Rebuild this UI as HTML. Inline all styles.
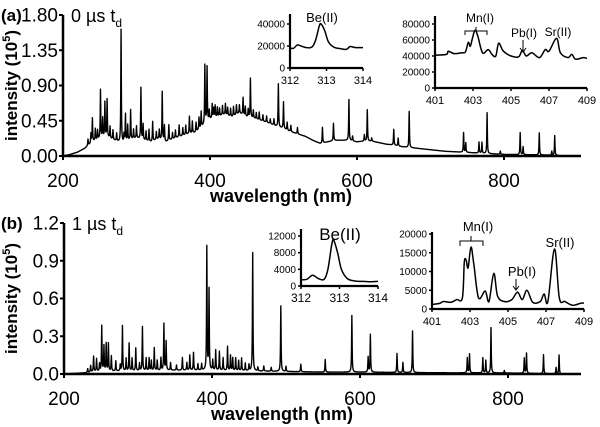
<!DOCTYPE html>
<html><head><meta charset="utf-8"><style>
body{margin:0;background:#fff}
svg{display:block;font-family:"Liberation Sans",sans-serif}
</style></head><body>
<svg id="c" width="600" height="427" viewBox="0 0 600 427"></svg>
<script>
// ---- Panel (a) 0 us data (intensity in 1e5) ----
const baseA_wl=[200,210,220,230,240,250,260,270,280,290,300,310,320,330,340,350,360,370,380,390,400,410,420,430,440,450,460,470,480,490,500,510,520,530,540,550,560,570,580,590,600,610,620,630,640,650,660,670,680,690,700,720,740,760,780,800,840,870,880,905];
const baseA_val=[0,0.02,0.05,0.1,0.18,0.22,0.24,0.2,0.16,0.2,0.23,0.2,0.18,0.22,0.18,0.22,0.25,0.28,0.3,0.38,0.47,0.5,0.53,0.5,0.55,0.5,0.48,0.45,0.42,0.38,0.35,0.31,0.28,0.25,0.2,0.16,0.18,0.2,0.2,0.2,0.18,0.19,0.19,0.17,0.15,0.14,0.12,0.11,0.1,0.09,0.08,0.06,0.05,0.04,0.03,0.02,0.015,0.01,0,0];
const peakA_wl=[234,238,240,244,247,251,254,257,260,264,268,273,279,283,285,288,292,296,300,306,309,313,317,322,327,331,335,338,344,349,353,358,363,367,372,376,381,385,388,393,396,399,403,405,407,410,413,417,421,424,428,432,436,440,445,448,452,455,459,463,467,472,477,482,487,493,500,505,510,519,553,568,589,594,610,614,620,650,656,671,745,748,766,770,777,795,822,826,848,865,869];
const peakA_h=[0.08,0.12,0.3,0.15,0.12,0.62,0.25,0.45,0.48,0.15,0.12,0.1,1.45,0.1,0.35,0.2,0.38,0.12,0.15,0.66,0.2,0.12,0.15,0.25,0.1,0.12,0.62,0.2,0.2,0.08,0.1,0.15,0.1,0.12,0.22,0.15,0.12,0.15,0.2,0.75,0.7,0.12,0.18,0.12,0.15,0.12,0.1,0.12,0.14,0.1,0.1,0.12,0.12,0.1,0.22,0.12,0.1,0.5,0.1,0.08,0.1,0.08,0.08,0.06,0.08,0.55,0.34,0.1,0.08,0.08,0.2,0.22,0.52,0.06,0.08,0.4,0.04,0.2,0.1,0.46,0.25,0.12,0.14,0.14,0.52,0.04,0.28,0.1,0.28,0.05,0.25];
// ---- Panel (b) 1 us data ----
const baseB_wl=[200,230,240,300,350,400,450,500,550,600,700,800,880,905];
const baseB_val=[0,0.01,0.02,0.025,0.03,0.03,0.025,0.02,0.015,0.015,0.01,0.008,0,0];
const peakB_wl=[232,236,240,244,248,251,254,257,260,264,270,276,279,284,288,292,297,302,306,311,315,318,322,326,331,335,338,344,352,360,366,370,375,381,386,393,396,401,405,410,415,421,425,428,432,436,440,445,450,455,462,470,480,493,500,520,553,589,611,614,650,658,671,745,748,766,770,777,795,822,825,848,865,869];
const peakB_h=[0.03,0.05,0.12,0.1,0.06,0.36,0.2,0.22,0.22,0.12,0.08,0.05,0.36,0.1,0.22,0.1,0.18,0.06,0.35,0.1,0.1,0.08,0.18,0.08,0.1,0.37,0.23,0.06,0.04,0.1,0.06,0.12,0.14,0.05,0.05,0.98,0.64,0.08,0.16,0.15,0.1,0.19,0.12,0.1,0.1,0.08,0.1,0.06,0.05,0.94,0.03,0.04,0.03,0.52,0.04,0.06,0.1,0.45,0.12,0.3,0.15,0.08,0.33,0.12,0.15,0.12,0.1,0.36,0.02,0.12,0.16,0.15,0.05,0.15];
// ---- insets ----
const beA_x=[312,312.1,312.2,312.3,312.45,312.6,312.7,312.8,312.85,312.95,313.05,313.2,313.4,313.55,313.65,313.8,314];
const beA_y=[18000,18000,21000,20000,18500,19000,25000,38000,40000,34000,24000,19000,17500,17000,19500,18500,18500];
const mnA_x=[401,401.6,401.7,402,402.4,402.6,402.75,402.85,402.95,403.1,403.25,403.5,403.8,404,404.2,404.35,404.6,405,405.4,405.6,405.8,406.1,406.5,406.8,407,407.4,407.6,408,408.2,408.4,408.8,409];
const mnA_y=[41000,42000,46000,43000,44000,45000,57000,52000,60000,72000,65000,44000,48000,42000,40000,56000,46000,40000,39000,47000,40000,44000,38000,48000,46000,62000,44000,38000,42000,36000,38000,37000];
const beB_x=[312,312.15,312.3,312.45,312.6,312.7,312.8,312.85,312.95,313.05,313.2,313.4,313.6,313.8,314];
const beB_y=[1500,1600,2600,1800,1600,4000,10000,11000,8000,4000,1800,1200,1100,1000,1100];
const mnB_x=[401,401.4,401.6,402,402.3,402.6,402.7,402.8,402.9,403.05,403.2,403.45,403.8,404,404.25,404.45,404.8,405.2,405.5,405.75,406,406.3,406.7,406.9,407.1,407.45,407.7,408,408.4,408.8,409];
const mnB_y=[1200,1500,2000,1800,2500,3000,12500,13000,11000,16500,12000,3000,4800,2000,9500,3500,2000,2500,4500,2500,5000,1800,2000,4000,2000,16000,3000,2000,1000,1500,1600];

const NS='http://www.w3.org/2000/svg';
const svg=document.getElementById('c');
function mk(tag,attrs,parent,text){const e=document.createElementNS(NS,tag);for(const k in attrs)e.setAttribute(k,attrs[k]);if(text!==undefined)e.textContent=text;(parent||svg).appendChild(e);return e;}
function interp(xs,ys,x){if(x<=xs[0])return ys[0];for(let i=1;i<xs.length;i++){if(x<=xs[i]){const t=(x-xs[i-1])/(xs[i]-xs[i-1]);return ys[i-1]+t*(ys[i]-ys[i-1]);}}return ys[ys.length-1];}
function spectrum(bw,bv,pw,ph,wl){let v=interp(bw,bv,wl);for(let i=0;i<pw.length;i++){const d=(wl-pw[i])/0.9;v+=ph[i]/(1+d*d*5);}return v;}

function smooth(xs,ys){
  let d='M'+xs[0].toFixed(1)+','+ys[0].toFixed(1);
  for(let i=0;i<xs.length-1;i++){const x0=xs[i-1]??xs[i],y0=ys[i-1]??ys[i],x3=xs[i+2]??xs[i+1],y3=ys[i+2]??ys[i+1];
    d+=`C${(xs[i]+(xs[i+1]-x0)/6).toFixed(1)},${(ys[i]+(ys[i+1]-y0)/6).toFixed(1)} ${(xs[i+1]-(x3-xs[i])/6).toFixed(1)},${(ys[i+1]-(y3-ys[i])/6).toFixed(1)} ${xs[i+1].toFixed(1)},${ys[i+1].toFixed(1)}`;}
  return d;}

function panel(p){
  const g=mk('g',{},svg);
  const sx=w=>p.x0+(w-200)*p.k, sy=v=>p.y0-(v/p.ymax)*(p.y0-p.ytop);
  let d='';for(let w=200;w<=885;w+=0.25){const v=spectrum(p.bw,p.bv,p.pw,p.ph,w);d+=(d?'L':'M')+sx(w).toFixed(2)+','+sy(v).toFixed(2);}
  const line=mk('path',{d:d,fill:'none',stroke:'#000','stroke-width':1.4,'stroke-linejoin':'round'},g);
  const ax=mk('path',{d:`M${p.x0},${p.ytop}V${p.y0}H581`,fill:'none',stroke:'#000','stroke-width':2.5},g);
  p.yt.forEach((t,i)=>{const y=sy(p.ytv[i]);mk('path',{d:`M${p.x0-4},${y}H${p.x0}`,stroke:'#000','stroke-width':2},g);
    const tx=mk('text',{x:p.x0-5,y:y+6.5,'text-anchor':'end','font-size':19},g,t);});
  [200,400,600,800].forEach(w=>{const x=sx(w);mk('path',{d:`M${x},${p.y0}V${p.y0+4}`,stroke:'#000','stroke-width':2},g);
    const tx=mk('text',{x:x,y:p.y0+31,'text-anchor':'middle','font-size':19},g,String(w));});
  const xt=mk('text',{x:p.x0+218,y:p.y0+46,'text-anchor':'middle','font-size':18,'font-weight':'bold'},g,'wavelength (nm)');
  const yt=mk('text',{transform:`translate(17,${(p.y0+p.ytop)/2}) rotate(-90)`,'text-anchor':'middle','font-size':17,'font-weight':'bold'},g);
  
  yt.innerHTML='intensity (10<tspan font-size="11" dy="-7">5</tspan><tspan dy="7">)</tspan>';
  const lab=mk('text',{x:1,y:p.ytop+6,'font-size':17,'font-weight':'bold'},g,p.letter);
  const td=mk('text',{x:p.x0+8,y:p.ytop+7,'font-size':18},g);
  td.innerHTML=p.delay+' µs t<tspan font-size="12" dy="5">d</tspan>';
}
panel({name:'panel-a',letter:'(a)',delay:'0',x0:63,k:0.735,y0:156,ytop:15,ymax:1.8,yt:['1.80','1.35','0.90','0.45','0.00'],ytv:[1.8,1.35,0.9,0.45,0],bw:baseA_wl,bv:baseA_val,pw:peakA_wl,ph:peakA_h});
panel({name:'panel-b',letter:'(b)',delay:'1',x0:64,k:0.74,y0:374,ytop:223,ymax:1.2,yt:['1.2','0.9','0.6','0.3','0.0'],ytv:[1.2,0.9,0.6,0.3,0],bw:baseB_wl,bv:baseB_val,pw:peakB_wl,ph:peakB_h});

function inset(q){
  const g=mk('g',{},svg);
  const sx=x=>q.x0+(x-q.xmin)/(q.xmax-q.xmin)*(q.x1-q.x0), sy=v=>q.y0-v/q.ymax*(q.y0-q.ymt);
  const l=mk('path',{d:smooth(q.xs.map(sx),q.ys.map(sy)),fill:'none',stroke:'#000','stroke-width':1.5,'stroke-linejoin':'round'},g);
  mk('path',{d:`M${q.x0},${q.top}V${q.y0}H${q.x1}`,fill:'none',stroke:'#000','stroke-width':2.2},g);
  q.yt.forEach(v=>{const y=sy(v);mk('path',{d:`M${q.x0-3},${y}H${q.x0}`,stroke:'#000','stroke-width':1.5},g);
    const t=mk('text',{x:q.x0-5,y:y+3.5,'text-anchor':'end','font-size':10},g,String(v));});
  q.xt.forEach(v=>{const x=sx(v);mk('path',{d:`M${x},${q.y0}V${q.y0+3}`,stroke:'#000','stroke-width':1.5},g);
    const t=mk('text',{x:x,y:q.y0+16,'text-anchor':'middle','font-size':q.xfs},g,String(v));});
}
inset({name:'inset-a-be',xs:beA_x,ys:beA_y,xmin:312,xmax:314,x0:290,x1:363,y0:68,ymt:24,ymax:40000,top:14,yt:[0,20000,40000],xt:[312,313,314],xfs:11});
inset({name:'inset-a-mn',xs:mnA_x,ys:mnA_y,xmin:401,xmax:409,x0:435,x1:587,y0:88,ymt:24,ymax:80000,top:16,yt:[0,20000,40000,60000,80000],xt:[401,403,405,407,409],xfs:11});
inset({name:'inset-b-be',xs:beB_x,ys:beB_y,xmin:312,xmax:314,x0:301,x1:378,y0:286,ymt:236,ymax:12000,top:229,yt:[0,4000,8000,12000],xt:[312,313,314],xfs:12});
inset({name:'inset-b-mn',xs:mnB_x,ys:mnB_y,xmin:401,xmax:409,x0:432,x1:584,y0:309,ymt:234,ymax:20000,top:232,yt:[0,5000,10000,15000,20000],xt:[401,403,405,407,409],xfs:11});

function label(t,x,y,fs,name){const e=mk('text',{x:x,y:y,'text-anchor':'middle','font-size':fs},svg,t);}
label('Be(II)',322,22,13,'be-label-a');
label('Mn(I)',480,22,12,'mn-label-a');
label('Pb(I)',524,37,12,'pb-label-a');
label('Sr(II)',558,36,12,'sr-label-a');
label('Be(II)',340,240,17,'be-label-b');
label('Mn(I)',478,231,13,'mn-label-b');
label('Pb(I)',522,276,13,'pb-label-b');
label('Sr(II)',560,247,13,'sr-label-b');
mk('path',{d:'M465,35V31H487V35M476,31V27',fill:'none',stroke:'#000','stroke-width':1});
mk('path',{d:'M523,40V52M520,48L523,52L526,48',fill:'none',stroke:'#000','stroke-width':1});
mk('path',{d:'M460,246V241H483V246M471,241V236',fill:'none',stroke:'#000','stroke-width':1});
mk('path',{d:'M516,279V290M513,286L516,290L519,286',fill:'none',stroke:'#000','stroke-width':1});
</script>
</body></html>
